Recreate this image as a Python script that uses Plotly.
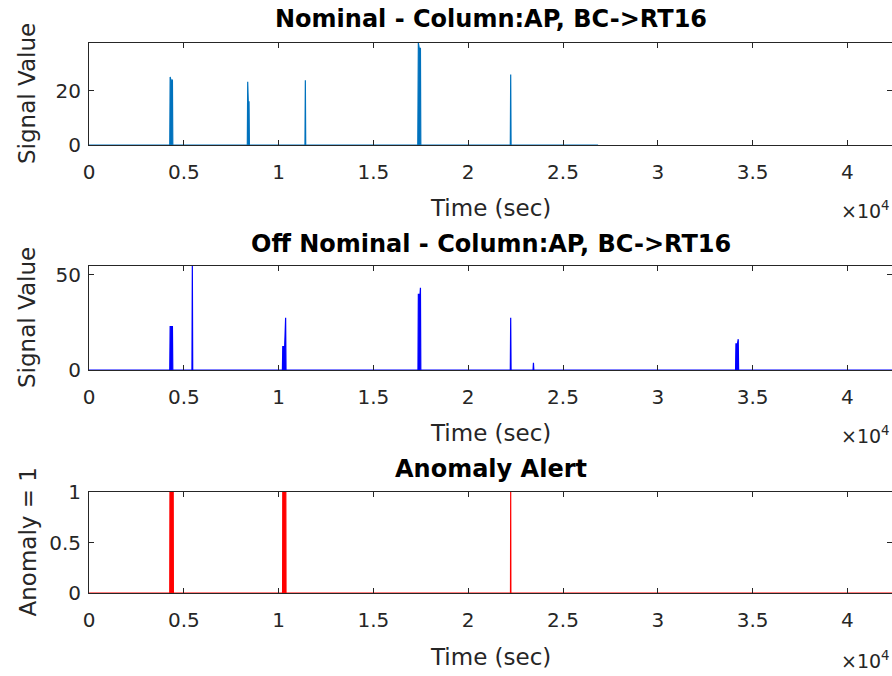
import plotly.graph_objects as go

# ---------------- data ----------------
nominal_t = [0, 4260, 4280, 4320, 4400, 4420, 8350, 8370, 8400, 8440, 8460,
             11390, 11410, 11430, 17340, 17370, 17420, 17480, 17500,
             22220, 22240, 22260, 26850]
nominal_v = [0, 0, 25.1, 23.9, 23.9, 0, 0, 23.3, 15.9, 15.9, 0,
             0, 23.9, 0, 0, 37.6, 35.6, 35.6, 0,
             0, 26.0, 0, 0]

offnom_t = [0, 4260, 4280, 4400, 4420, 5430, 5450, 5470,
            10200, 10220, 10320, 10350, 10370, 10390,
            17350, 17370, 17460, 17480, 17500,
            22220, 22240, 22260, 23420, 23440, 23460,
            34100, 34120, 34200, 34240, 34260, 42350]
offnom_v = [0, 0, 22.8, 22.8, 0, 0, 54.7, 0,
            0, 12.3, 12.3, 27.5, 27.5, 0,
            0, 39.8, 39.8, 43.3, 0,
            0, 27.5, 0, 0, 3.8, 0,
            0, 13.7, 13.7, 16.2, 0, 0]

anomaly_t = [0, 4260, 4270, 4440, 4450, 10210, 10220, 10380, 10390,
             22230, 22240, 22250, 42350]
anomaly_v = [0, 0, 1, 1, 0, 0, 1, 1, 0,
             0, 1, 0, 0]

x_tickvals = [0, 5000, 10000, 15000, 20000, 25000, 30000, 35000, 40000]
x_ticktext = ["0", "0.5", "1", "1.5", "2", "2.5", "3", "3.5", "4"]

titles = ["Nominal - Column:AP, BC->RT16",
          "Off Nominal - Column:AP, BC->RT16",
          "Anomaly Alert"]
y_titles = ["Signal Value", "Signal Value", "Anomaly = 1"]
x_title = "Time (sec)"

# ---------------- figure ----------------
W, H = 892, 676
FONT = "DejaVu Sans"
AXC = "#262626"
L = 89

fig = go.Figure()
series = [(nominal_t, nominal_v, "#0072BD"),
          (offnom_t, offnom_v, "#0000FF"),
          (anomaly_t, anomaly_v, "#FF0000")]
for i, (t, v, c) in enumerate(series):
    sfx = "" if i == 0 else str(i + 1)
    fig.add_trace(go.Scatter(x=t, y=v, mode="lines", fill="tozeroy",
                             fillcolor=c, line=dict(color=c, width=1.2),
                             xaxis="x" + sfx, yaxis="y" + sfx,
                             showlegend=False, hoverinfo="skip"))

# pixel extents of the three plot boxes (top, bottom)
boxes = [(43, 145), (266, 370), (492, 593)]
yranges = [[0, 37.6], [0, 54.7], [0, 1]]
ytickvals = [[0, 20], [0, 50], [0, 0.5, 1]]
xmax = 42350

def py(v):
    return (H - v) / H

axcommon = dict(showline=True, linecolor=AXC, linewidth=1, mirror="ticks",
                ticks="inside", ticklen=5, tickcolor=AXC, showgrid=False,
                zeroline=False, automargin=False,
                tickfont=dict(family=FONT, size=20, color=AXC))

layout = dict(width=W, height=H, plot_bgcolor="white", paper_bgcolor="white",
              margin=dict(l=L, r=0, t=0, b=0, autoexpand=False),
              showlegend=False)
for i, ((top, bot), yr, ytv) in enumerate(zip(boxes, yranges, ytickvals)):
    sfx = "" if i == 0 else str(i + 1)
    layout["xaxis" + sfx] = dict(axcommon, domain=[0, 1], range=[0, xmax],
                                 tickvals=x_tickvals, ticktext=x_ticktext,
                                 ticklabelstandoff=9, anchor="y" + sfx)
    layout["yaxis" + sfx] = dict(axcommon, domain=[py(bot), py(top)], range=yr,
                                 tickvals=ytv, ticklabelstandoff=3,
                                 anchor="x" + sfx)
fig.update_layout(**layout)

ann = []
title_y = [19, 244, 469]
xlab_y = [208, 433, 657]
exp_y = [210, 435, 660]
for i, (top, bot) in enumerate(boxes):
    ann.append(dict(text="<b>" + titles[i] + "</b>", xref="paper", yref="paper",
                    x=0.5, y=py(title_y[i]), xanchor="center", yanchor="middle",
                    showarrow=False,
                    font=dict(family=FONT, size=24, color="black")))
    ann.append(dict(text=x_title, xref="paper", yref="paper",
                    x=0.5, y=py(xlab_y[i]), xanchor="center", yanchor="middle",
                    showarrow=False,
                    font=dict(family=FONT, size=23, color=AXC)))
    ann.append(dict(text="\u00d710<sup>4</sup>", xref="paper", yref="paper",
                    x=1.0, xanchor="right", y=py(exp_y[i]), yanchor="middle",
                    showarrow=False,
                    font=dict(family=FONT, size=19, color=AXC)))
    ann.append(dict(text=y_titles[i], xref="paper", yref="paper",
                    x=(27 - L) / (W - L), y=py((top + bot) / 2),
                    xanchor="center", yanchor="middle",
                    textangle=-90, showarrow=False,
                    font=dict(family=FONT, size=23, color=AXC)))
fig.update_layout(annotations=ann)

fig.write_html("out.html", config={"displayModeBar": False},
               post_script="document.body.style.margin='0';"
                           "document.body.style.overflow='hidden';")
